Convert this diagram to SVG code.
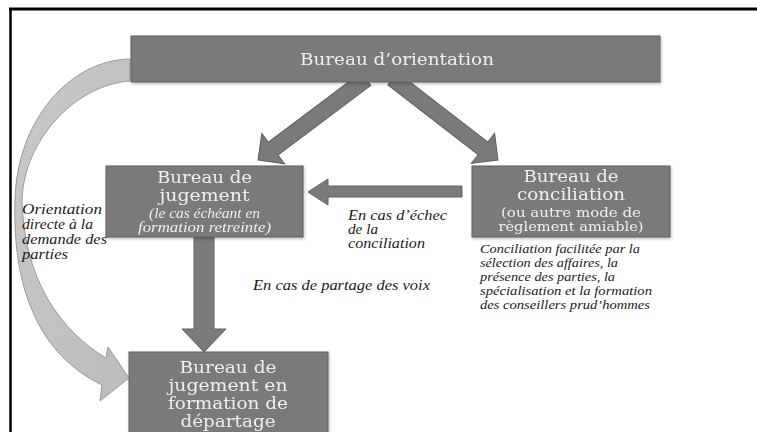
<svg xmlns="http://www.w3.org/2000/svg" width="757" height="432" viewBox="0 0 757 432">
<defs>
<filter id="sh" x="-10%" y="-10%" width="120%" height="130%">
<feDropShadow dx="1" dy="1.5" stdDeviation="1.5" flood-color="#000" flood-opacity="0.25"/>
</filter>
<linearGradient id="cg" x1="0" y1="0" x2="1" y2="1">
<stop offset="0" stop-color="#c9c9c9"/>
<stop offset="1" stop-color="#bcbcbc"/>
</linearGradient>
</defs>
<style>
.box{fill:#7a7a7a;stroke:#5e5e5e;stroke-width:1;}
.arr{fill:#7a7a7a;stroke:#5e5e5e;stroke-width:1;}
.bt{font-family:"DejaVu Serif","Liberation Serif",serif;fill:#efefef;text-anchor:middle;}
.big{font-size:16px;}
.sm{font-size:12.5px;}
.it{font-family:"Liberation Serif",serif;font-style:italic;font-size:14px;}
.lbl{font-family:"Liberation Serif",serif;font-style:italic;fill:#1a1a1a;font-size:14px;}
.note{font-size:12.5px;}
</style>
<rect width="757" height="432" fill="#ffffff"/>
<g id="frame">
<line x1="9" y1="9" x2="757" y2="9" stroke="#000" stroke-width="3"/>
<line x1="10.5" y1="8" x2="10.5" y2="432" stroke="#000" stroke-width="2.5"/>
</g>
<g id="connectors">
<path id="curved" d="M130,59 C70,60 17,120 15,200 C12,290 40,355 102,385 L100,401 L129,378 L108,347 L106,358 C60,330 24,280 22,200 C24,140 75,85 130,81 Z" fill="url(#cg)" stroke="#9a9a9a" stroke-width="1"/>
<polygon class="arr" transform="translate(258,160) rotate(143.1)" points="0,0 -19,-19 -19,-8 -135,-8 -135,8 -19,8 -19,19"/>
<polygon class="arr" transform="translate(498,160) rotate(37.7)" points="0,0 -19,-19 -19,-8 -133,-8 -133,8 -19,8 -19,19"/>
<polygon class="arr" points="462,186 328,186 328,179 308,192 328,205 328,197 462,197"/>
<polygon class="arr" points="194,237 214,237 214,329 226,329 204,352 182,329 194,329"/>
</g>
<g id="orientation" filter="url(#sh)">
<rect class="box" x="131" y="36" width="529" height="46"/>
<text class="bt big" x="397" y="65" textLength="194" lengthAdjust="spacingAndGlyphs">Bureau d’orientation</text>
</g>
<g id="jugement" filter="url(#sh)">
<rect class="box" x="106" y="166" width="197" height="71"/>
<text class="bt big" x="204.5" y="183" font-size="17" textLength="95" lengthAdjust="spacingAndGlyphs">Bureau de</text>
<text class="bt big" x="204.5" y="201" font-size="17" textLength="90" lengthAdjust="spacingAndGlyphs">jugement</text>
<text class="bt it" x="204.5" y="218" textLength="111" lengthAdjust="spacingAndGlyphs">(le cas échéant en</text>
<text class="bt it" x="204.5" y="232" textLength="133" lengthAdjust="spacingAndGlyphs">formation retreinte)</text>
</g>
<g id="conciliation" filter="url(#sh)">
<rect class="box" x="472" y="166" width="198" height="71"/>
<text class="bt big" x="571" y="182" textLength="95" lengthAdjust="spacingAndGlyphs">Bureau de</text>
<text class="bt big" x="571" y="200" textLength="108" lengthAdjust="spacingAndGlyphs">conciliation</text>
<text class="bt sm" x="571" y="217" textLength="140" lengthAdjust="spacingAndGlyphs">(ou autre mode de</text>
<text class="bt sm" x="571" y="231" textLength="145" lengthAdjust="spacingAndGlyphs">règlement amiable)</text>
</g>
<g id="departage" filter="url(#sh)">
<rect class="box" x="129" y="352" width="199" height="90"/>
<text class="bt big" x="228" y="373" textLength="97" lengthAdjust="spacingAndGlyphs">Bureau de</text>
<text class="bt big" x="228" y="391" textLength="119" lengthAdjust="spacingAndGlyphs">jugement en</text>
<text class="bt big" x="228" y="409" textLength="120" lengthAdjust="spacingAndGlyphs">formation de</text>
<text class="bt big" x="228" y="427" textLength="95" lengthAdjust="spacingAndGlyphs">départage</text>
</g>
<g id="labels">
<text class="lbl" x="22" y="214" textLength="80" lengthAdjust="spacingAndGlyphs">Orientation</text>
<text class="lbl" x="22" y="229" textLength="71" lengthAdjust="spacingAndGlyphs">directe à la</text>
<text class="lbl" x="22" y="244" textLength="85" lengthAdjust="spacingAndGlyphs">demande des</text>
<text class="lbl" x="22" y="259" textLength="46" lengthAdjust="spacingAndGlyphs">parties</text>
<text class="lbl" x="348" y="220" textLength="99" lengthAdjust="spacingAndGlyphs">En cas d’échec</text>
<text class="lbl" x="348" y="234" textLength="30" lengthAdjust="spacingAndGlyphs">de la</text>
<text class="lbl" x="348" y="248" textLength="77" lengthAdjust="spacingAndGlyphs">conciliation</text>
<text class="lbl" x="253" y="290" textLength="177" lengthAdjust="spacingAndGlyphs">En cas de partage des voix</text>
<text class="lbl note" x="480" y="253" textLength="160" lengthAdjust="spacingAndGlyphs">Conciliation facilitée par  la</text>
<text class="lbl note" x="480" y="267" textLength="138" lengthAdjust="spacingAndGlyphs">sélection des affaires, la</text>
<text class="lbl note" x="480" y="281" textLength="135" lengthAdjust="spacingAndGlyphs">présence des parties, la</text>
<text class="lbl note" x="480" y="295" textLength="172" lengthAdjust="spacingAndGlyphs">spécialisation et la formation</text>
<text class="lbl note" x="480" y="309" textLength="170" lengthAdjust="spacingAndGlyphs">des conseillers prud’hommes</text>
</g>
</svg>
